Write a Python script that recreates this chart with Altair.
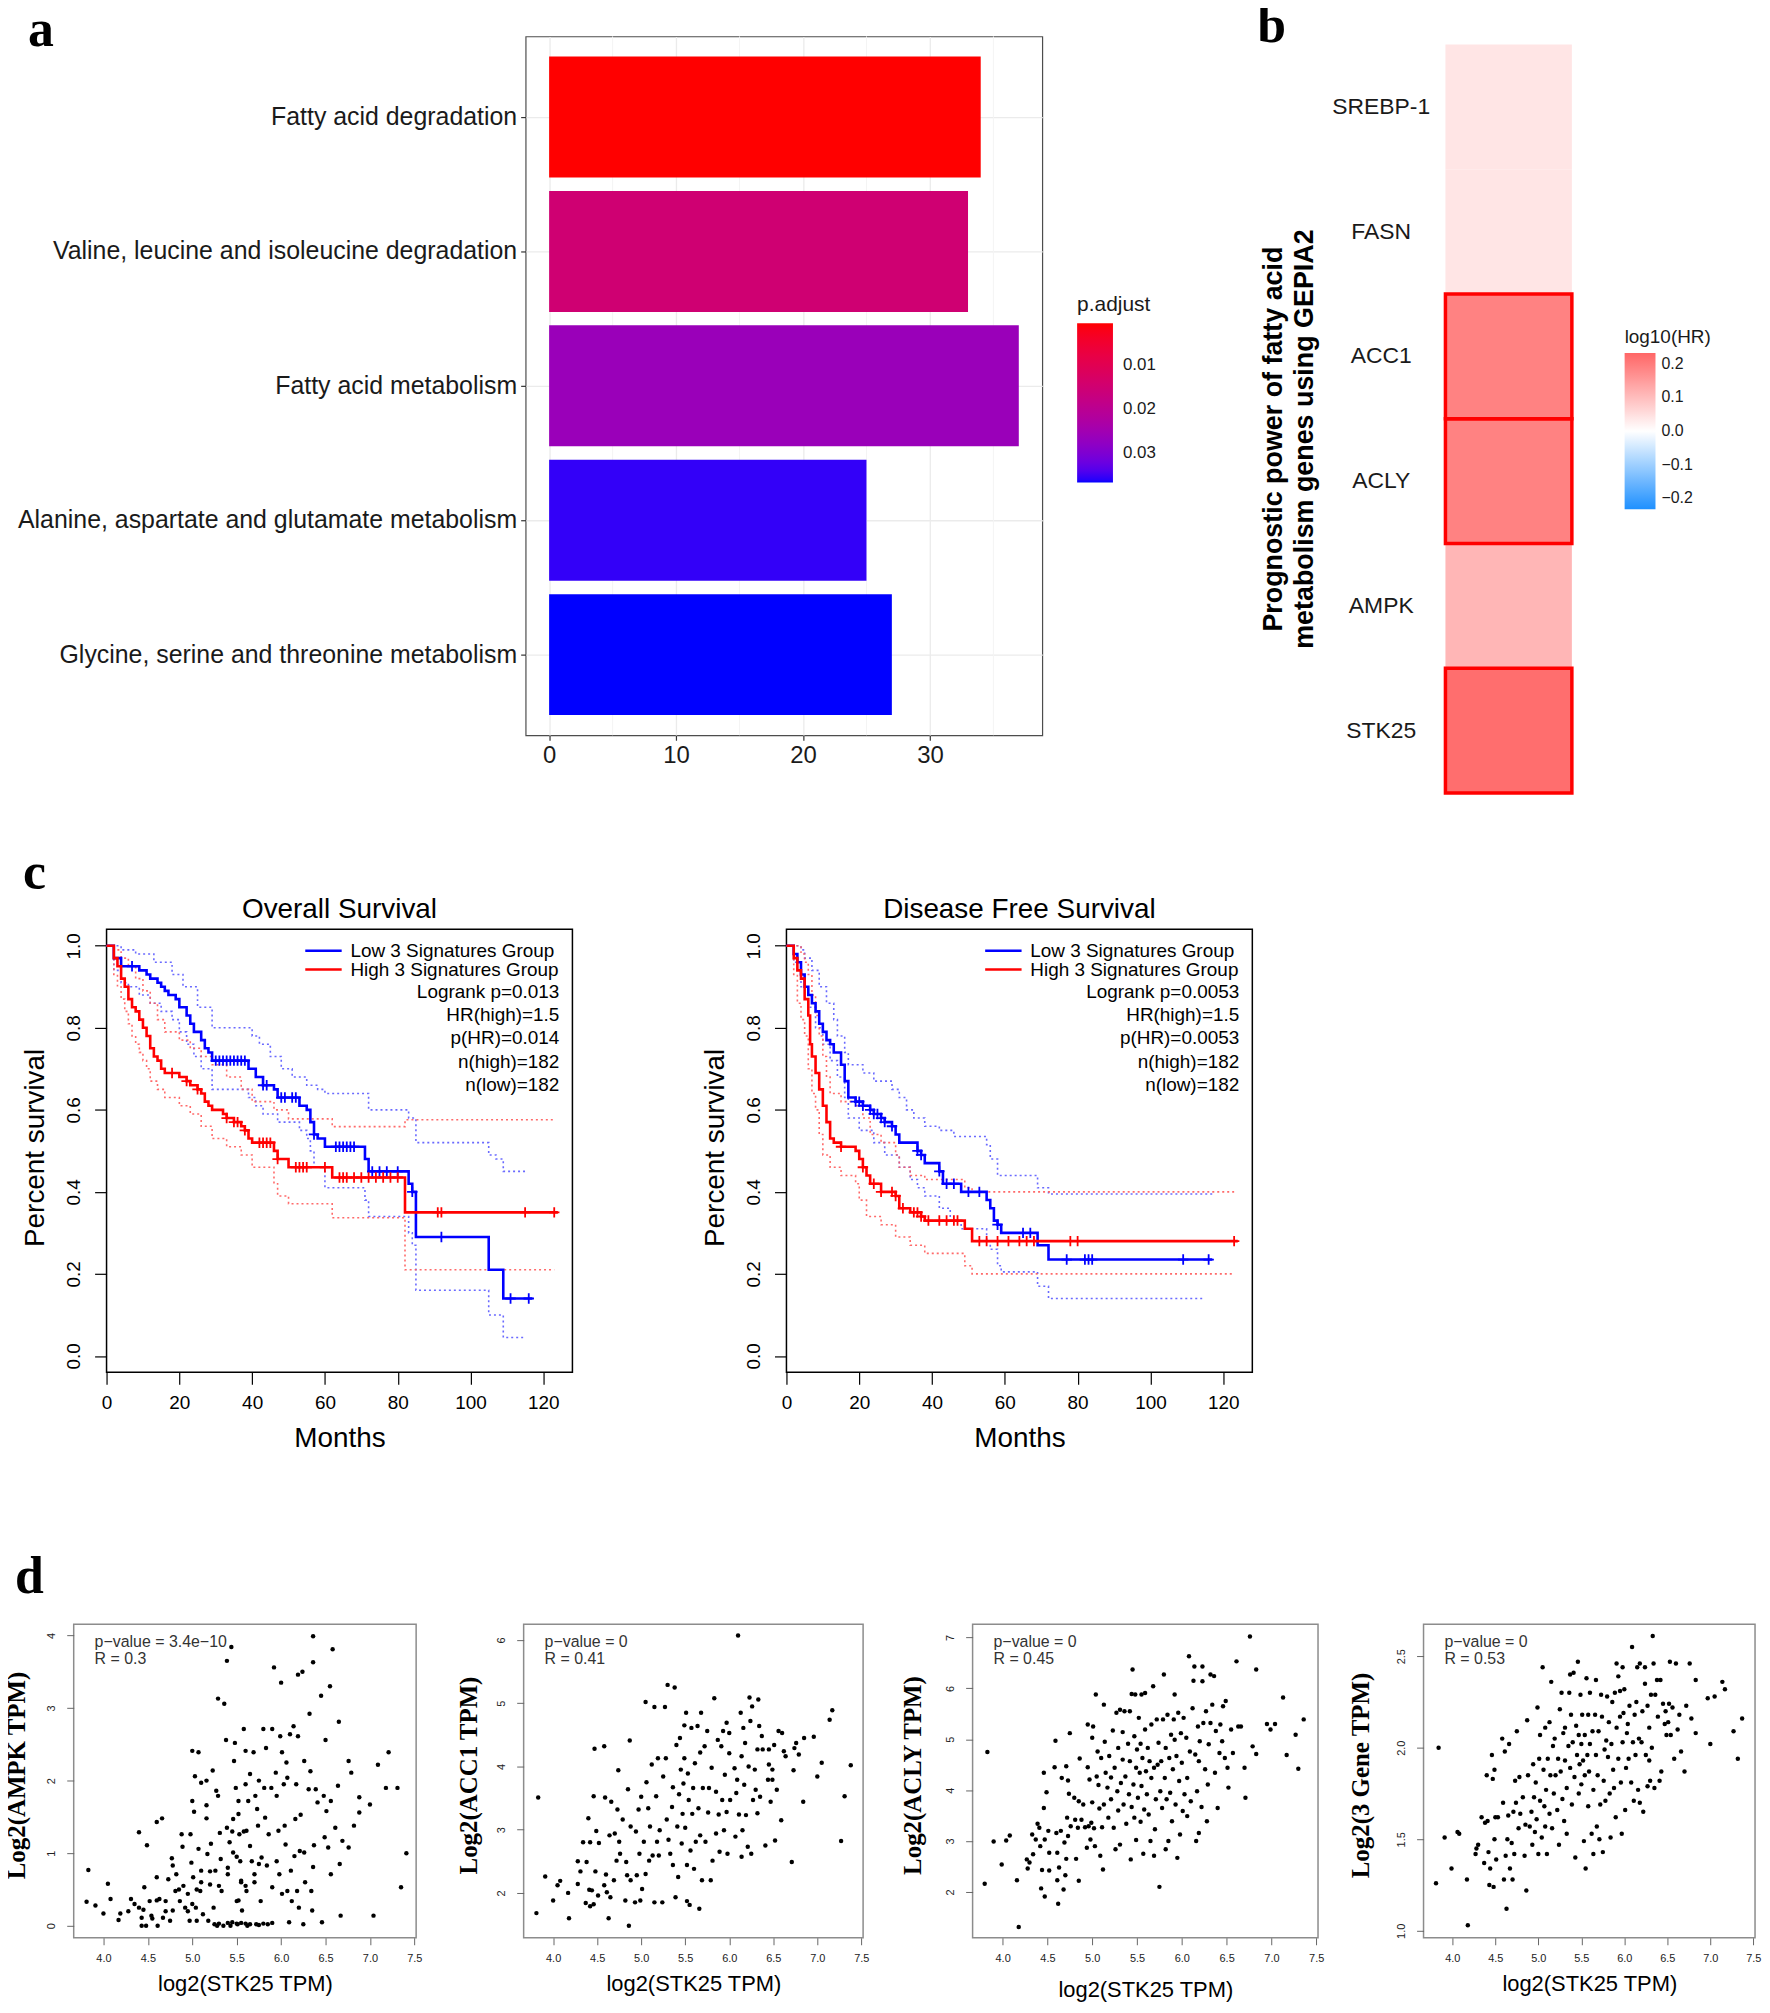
import altair as alt
import pandas as pd

FONT = "Liberation Sans"
SERIF = "Liberation Serif"

# ---------------- panel a ----------------
a_terms = ["Fatty acid degradation", "Valine, leucine and isoleucine degradation",
           "Fatty acid metabolism", "Alanine, aspartate and glutamate metabolism",
           "Glycine, serine and threonine metabolism"]
a_counts = [34, 33, 37, 25, 27]
a_padj = [0.00045, 0.0150, 0.0262, 0.0356, 0.0366]

# ---------------- panel b ----------------
b_genes = ["SREBP-1", "FASN", "ACC1", "ACLY", "AMPK", "STK25"]
b_log10hr = [0.04, 0.04, 0.19, 0.19, 0.11, 0.22]
b_significant = [False, False, True, True, False, True]

# ---------------- panel c (Kaplan-Meier step points: (month, survival)) ----------------
os_low = [(0, 1.0), (2, 0.97), (4, 0.95), (9, 0.94), (11, 0.93), (12, 0.92), (14, 0.91), (15, 0.90), (16, 0.89),
          (17, 0.88), (19, 0.87), (20, 0.85), (22, 0.83), (23, 0.81), (24, 0.79), (26, 0.77), (27, 0.75), (28, 0.74),
          (29, 0.72), (39, 0.70), (41, 0.68), (43, 0.66), (46, 0.65), (47, 0.63), (53, 0.61), (55, 0.60), (56, 0.57),
          (57, 0.54), (58, 0.53), (60, 0.51), (71, 0.48), (72, 0.45), (83, 0.42), (84, 0.40), (85, 0.29), (105, 0.21),
          (109, 0.14), (117, 0.14)]
os_high = [(0, 1.0), (2, 0.97), (3, 0.95), (4, 0.92), (5, 0.90), (6, 0.87), (7, 0.85), (8, 0.84), (9, 0.82), (10, 0.80),
           (11, 0.78), (12, 0.75), (13, 0.73), (14, 0.72), (15, 0.70), (16, 0.69), (20, 0.68), (22, 0.67), (23, 0.66),
           (25, 0.65), (26, 0.64), (27, 0.62), (28, 0.61), (29, 0.60), (32, 0.59), (33, 0.58), (35, 0.57), (37, 0.56),
           (38, 0.55), (39, 0.53), (40, 0.52), (46, 0.50), (47, 0.48), (50, 0.46), (62, 0.435), (82, 0.35), (124, 0.35)]
os_low_upper = [(0, 1.0), (3, 1.0), (4, 0.99), (8, 0.98), (13, 0.96), (18, 0.93), (21, 0.90), (25, 0.85), (29, 0.80),
                (40, 0.78), (42, 0.76), (45, 0.73), (48, 0.70), (51, 0.68), (55, 0.66), (58, 0.65), (60, 0.64),
                (72, 0.60), (83, 0.58), (85, 0.52), (105, 0.49), (107, 0.48), (109, 0.45), (115, 0.45)]
os_low_lower = [(0, 1.0), (2, 0.94), (4, 0.91), (6, 0.90), (9, 0.88), (12, 0.86), (15, 0.84), (18, 0.82), (20, 0.79),
                (22, 0.76), (24, 0.73), (26, 0.70), (29, 0.65), (39, 0.63), (41, 0.61), (43, 0.59), (47, 0.57),
                (53, 0.55), (55, 0.53), (56, 0.50), (57, 0.46), (60, 0.41), (71, 0.38), (72, 0.34), (83, 0.30),
                (84, 0.27), (85, 0.16), (105, 0.10), (109, 0.045), (115, 0.045)]
os_high_upper = [(0, 1.0), (2, 0.99), (4, 0.97), (6, 0.95), (8, 0.92), (10, 0.89), (12, 0.86), (14, 0.82), (16, 0.79),
                 (20, 0.77), (23, 0.75), (26, 0.73), (29, 0.71), (33, 0.68), (37, 0.65), (40, 0.62), (46, 0.60),
                 (50, 0.578), (62, 0.559), (82, 0.576), (123, 0.576)]
os_high_lower = [(0, 1.0), (2, 0.93), (3, 0.90), (4, 0.87), (5, 0.84), (6, 0.81), (7, 0.78), (8, 0.76), (9, 0.74),
                 (10, 0.72), (11, 0.70), (12, 0.67), (14, 0.65), (16, 0.63), (20, 0.61), (23, 0.59), (26, 0.56),
                 (29, 0.53), (33, 0.51), (37, 0.49), (40, 0.46), (46, 0.42), (47, 0.39), (50, 0.371), (62, 0.337),
                 (82, 0.21), (123, 0.21)]
os_cens_low = [7, 30, 31, 32, 33, 34, 35, 36, 37, 38, 43, 44, 48, 49, 51, 52, 57, 63, 64, 65, 66, 67, 68, 73, 75, 77,
               80, 84, 92, 111, 116]
os_cens_high = [18, 22, 25, 33, 35, 36, 38, 42, 43, 44, 45, 47, 52, 53, 54, 55, 60, 64, 65, 66, 68, 70, 72, 74, 76,
                78, 80, 91, 92, 115, 123]
os_stats = ["Logrank p=0.013", "HR(high)=1.5", "p(HR)=0.014", "n(high)=182", "n(low)=182"]

dfs_low = [(0, 1.0), (2, 0.98), (3, 0.96), (4, 0.93), (5, 0.90), (6, 0.88), (7, 0.86), (8, 0.84), (9, 0.81),
           (10, 0.79), (11, 0.77), (12, 0.76), (13, 0.74), (15, 0.71), (16, 0.67), (17, 0.63), (19, 0.62),
           (21, 0.61), (23, 0.60), (24, 0.59), (26, 0.58), (27, 0.57), (29, 0.56), (30, 0.54), (31, 0.52),
           (36, 0.50), (37, 0.49), (38, 0.47), (42, 0.45), (43, 0.42), (48, 0.40), (55, 0.38), (56, 0.36),
           (57, 0.33), (58, 0.32), (59, 0.30), (69, 0.27), (72, 0.235), (117, 0.235)]
dfs_high = [(0, 1.0), (2, 0.97), (3, 0.94), (4, 0.92), (5, 0.87), (6, 0.83), (6.5, 0.76), (7, 0.73), (8, 0.69),
            (9, 0.65), (10, 0.61), (11, 0.57), (12, 0.53), (13, 0.52), (15, 0.51), (19, 0.50), (20, 0.48),
            (21, 0.46), (22, 0.44), (23, 0.42), (26, 0.40), (30, 0.39), (31, 0.36), (34, 0.35), (37, 0.34),
            (38, 0.33), (49, 0.31), (51, 0.28), (124, 0.28)]
dfs_low_upper = [(0, 1.0), (3, 1.0), (4, 0.99), (5, 0.97), (7, 0.94), (9, 0.90), (11, 0.86), (13, 0.82), (14, 0.78),
                 (16, 0.74), (17, 0.71), (21, 0.69), (24, 0.67), (29, 0.65), (31, 0.63), (33, 0.60), (35, 0.58),
                 (38, 0.56), (42, 0.55), (46, 0.535), (55, 0.515), (56, 0.48), (58, 0.44), (69, 0.41),
                 (72, 0.395), (117, 0.395)]
dfs_low_lower = [(0, 1.0), (2, 0.96), (4, 0.90), (6, 0.85), (8, 0.80), (10, 0.76), (12, 0.72), (14, 0.68),
                 (16, 0.63), (17, 0.58), (20, 0.55), (24, 0.52), (27, 0.49), (31, 0.46), (34, 0.43), (36, 0.41),
                 (38, 0.39), (42, 0.36), (45, 0.33), (48, 0.31), (55, 0.28), (56, 0.26), (58, 0.22), (59, 0.205),
                 (69, 0.17), (72, 0.14), (115, 0.14)]
dfs_high_upper = [(0, 1.0), (3, 1.0), (4, 0.98), (5, 0.96), (6, 0.93), (7, 0.88), (8, 0.83), (9, 0.78), (10, 0.73),
                  (11, 0.68), (12, 0.64), (15, 0.62), (19, 0.61), (21, 0.58), (23, 0.54), (26, 0.52), (30, 0.49),
                  (31, 0.46), (34, 0.44), (38, 0.43), (49, 0.41), (51, 0.40), (123, 0.40)]
dfs_high_lower = [(0, 1.0), (2, 0.93), (3, 0.86), (4, 0.82), (5, 0.78), (6, 0.70), (7, 0.64), (8, 0.60), (9, 0.54),
                  (10, 0.49), (12, 0.46), (15, 0.44), (19, 0.42), (20, 0.38), (22, 0.34), (26, 0.32), (30, 0.29),
                  (34, 0.27), (38, 0.25), (49, 0.22), (51, 0.20), (123, 0.20)]
dfs_cens_low = [19, 20, 21, 23, 24, 25, 26, 27, 29, 36, 37, 42, 44, 46, 50, 53, 58, 65, 67, 77, 82, 83, 84, 109, 116]
dfs_cens_high = [15, 21, 24, 26, 29, 30, 32, 35, 36, 37, 39, 42, 44, 46, 47, 53, 55, 58, 61, 64, 66, 68, 78, 80, 123]
dfs_stats = ["Logrank p=0.0053", "HR(high)=1.5", "p(HR)=0.0053", "n(high)=182", "n(low)=182"]

km_groups = ["Low 3 Signatures Group", "High 3 Signatures Group"]

# ---------------- panel d (log2 STK25 TPM, log2 gene TPM) ----------------
ampk_pts = [(3.81,0.33),(3.83,0.77),(3.91,0.28),(4.0,0.17),(4.05,0.58),(4.08,0.37),(4.17,0.08),(4.19,0.17),(4.28,0.2),(4.31,0.37),(4.35,0.3),(4.4,1.29),(4.4,0.25),(4.43,0.11),(4.43,0.0),(4.46,0.53),(4.49,1.11),(4.48,0.0),(4.52,0.34),(4.54,0.14),(4.6,0.67),(4.6,1.43),(4.61,0.0),(4.63,0.37),(4.66,1.48),(4.67,0.11),(4.7,0.34),(4.73,0.64),(4.75,0.07),(4.77,0.93),(4.78,0.83),(4.78,0.21),(4.81,0.48),(4.82,0.71),(4.86,0.34),(4.88,1.26),(4.89,1.09),(4.9,0.55),(4.92,0.25),(4.95,0.44),(4.97,0.07),(4.98,1.26),(4.99,0.87),(5.0,2.41),(5.0,1.72),(5.01,0.67),(5.02,1.57),(5.03,2.06),(5.04,0.25),(5.05,0.07),(5.07,2.39),(5.07,1.06),(5.09,0.48),(5.1,1.97),(5.1,0.76),(5.12,0.16),(5.16,1.66),(5.16,1.48),(5.16,2.0),(5.17,0.99),(5.18,0.07),(5.2,0.57),(5.21,1.13),(5.23,2.14),(5.24,0.25),(5.26,0.76),(5.27,1.86),(5.28,0.0),(5.29,3.13),(5.29,1.79),(5.31,1.28),(5.32,0.92),(5.33,0.48),(5.35,0.0),(5.36,3.06),(5.38,2.56),(5.39,3.65),(5.39,1.35),(5.4,0.71),(5.42,1.15),(5.43,0.0),(5.44,3.84),(5.46,1.47),(5.46,1.01),(5.47,2.27),(5.48,2.52),(5.49,1.9),(5.5,0.34),(5.51,0.02),(5.52,1.72),(5.52,1.54),(5.53,1.26),(5.54,0.89),(5.55,0.62),(5.56,0.21),(5.58,2.71),(5.6,2.41),(5.6,1.95),(5.61,1.31),(5.61,0.48),(5.62,0.0),(5.63,1.72),(5.65,2.09),(5.67,0.89),(5.69,2.39),(5.7,0.71),(5.71,1.79),(5.72,0.02),(5.73,1.61),(5.74,1.38),(5.75,2.0),(5.77,0.34),(5.78,0.94),(5.8,2.71),(5.81,1.9),(5.82,1.49),(5.83,2.45),(5.84,0.83),(5.85,0.02),(5.86,1.26),(5.89,1.9),(5.9,2.71),(5.9,0.53),(5.92,3.56),(5.94,2.11),(5.95,0.89),(5.95,1.79),(5.97,1.31),(5.98,0.71),(5.99,2.61),(6.0,3.35),(6.01,2.39),(6.01,0.44),(6.03,1.95),(6.04,1.38),(6.05,1.12),(6.06,2.25),(6.07,2.04),(6.07,0.48),(6.09,0.05),(6.1,2.64),(6.11,0.76),(6.12,0.34),(6.14,2.75),(6.15,0.96),(6.16,1.47),(6.17,1.95),(6.18,0.48),(6.19,3.46),(6.19,2.61),(6.2,0.25),(6.21,1.03),(6.22,1.53),(6.24,3.5),(6.25,0.02),(6.26,2.27),(6.26,1.01),(6.27,0.6),(6.31,1.88),(6.32,2.92),(6.33,2.13),(6.34,0.48),(6.35,0.21),(6.36,0.81),(6.36,3.63),(6.36,3.99),(6.37,1.11),(6.39,1.88),(6.41,1.7),(6.45,3.17),(6.46,0.05),(6.48,1.79),(6.49,1.22),(6.5,2.56),(6.51,1.58),(6.53,1.08),(6.55,3.3),(6.56,1.72),(6.56,0.71),(6.58,3.81),(6.61,1.35),(6.64,1.93),(6.65,2.81),(6.66,0.85),(6.67,0.14),(6.69,1.17),(6.76,1.08),(6.76,2.27),(6.79,2.11),(6.82,1.38),(6.88,1.77),(6.88,1.56),(7.0,1.67),(7.04,0.14),(7.09,2.22),(7.18,1.9),(7.21,2.39),(7.31,1.9),(7.35,0.53),(7.41,1.0),(5.25,0.02),(5.3,0.03),(5.4,0.04),(5.45,0.05),(5.5,0.03),(5.55,0.04),(5.6,0.03),(5.65,0.02),(5.75,0.01),(5.8,0.03),(5.9,0.04),(5.52,0.35),(5.55,0.6),(5.6,0.55),(5.5,0.95),(5.45,1.3),(5.58,1.3),(5.7,0.6),(5.75,0.85),(5.65,1.1),(5.4,0.8),(5.3,0.55),(5.2,0.75),(5.1,0.6),(5.05,0.5),(5.0,0.3),(4.95,0.2),(4.85,0.5),(4.7,0.2),(4.6,0.35),(4.55,0.1),(4.45,0.22)]
acc1_pts = [(3.81,1.68),(3.83,3.51),(3.91,2.26),(4.0,1.88),(4.05,2.12),(4.08,2.19),(4.17,2.0),(4.18,1.6),(4.28,2.5),(4.28,2.14),(4.31,2.34),(4.34,2.8),(4.37,1.84),(4.38,2.49),(4.4,3.18),(4.41,2.05),(4.42,1.79),(4.42,2.8),(4.44,2.04),(4.46,3.53),(4.46,1.82),(4.47,4.28),(4.48,2.34),(4.49,2.98),(4.51,1.96),(4.52,2.79),(4.58,2.12),(4.58,4.32),(4.59,3.51),(4.6,2.29),(4.61,2.01),(4.63,1.6),(4.64,2.91),(4.65,1.93),(4.66,3.44),(4.69,2.2),(4.7,2.94),(4.72,2.51),(4.73,3.32),(4.74,3.94),(4.75,2.81),(4.76,2.62),(4.79,3.16),(4.82,1.88),(4.83,2.49),(4.84,2.28),(4.85,3.64),(4.86,1.48),(4.87,4.41),(4.88,2.2),(4.88,3.05),(4.93,1.85),(4.94,2.97),(4.95,2.28),(4.97,3.32),(4.98,2.62),(4.99,1.88),(5.0,3.52),(5.01,2.06),(5.03,2.81),(5.05,5.02),(5.05,2.3),(5.06,3.75),(5.08,3.34),(5.09,2.51),(5.1,3.05),(5.12,4.03),(5.13,2.59),(5.15,4.94),(5.15,1.85),(5.17,3.53),(5.18,2.81),(5.19,4.13),(5.2,2.59),(5.21,2.99),(5.24,1.85),(5.25,3.84),(5.27,4.94),(5.28,4.13),(5.29,3.16),(5.3,5.29),(5.31,2.84),(5.33,2.62),(5.35,3.36),(5.36,3.67),(5.36,2.44),(5.38,5.25),(5.39,1.93),(5.4,4.34),(5.41,3.05),(5.42,2.25),(5.43,3.56),(5.44,4.45),(5.45,3.95),(5.46,2.78),(5.47,3.25),(5.48,3.73),(5.49,4.65),(5.49,4.13),(5.5,3.03),(5.51,4.85),(5.52,2.44),(5.52,1.87),(5.53,3.89),(5.54,3.47),(5.55,1.81),(5.56,2.67),(5.57,4.61),(5.58,3.25),(5.59,3.66),(5.6,2.38),(5.61,4.05),(5.62,2.81),(5.64,4.64),(5.65,3.34),(5.66,1.75),(5.67,4.22),(5.67,2.91),(5.68,4.85),(5.69,2.2),(5.7,3.66),(5.72,4.32),(5.73,2.81),(5.75,4.56),(5.76,3.27),(5.77,3.66),(5.79,2.2),(5.8,3.98),(5.81,2.51),(5.83,5.08),(5.85,2.94),(5.85,3.6),(5.87,4.42),(5.88,3.24),(5.89,2.65),(5.91,4.32),(5.92,3.47),(5.93,4.56),(5.94,2.99),(5.95,3.87),(5.97,4.69),(5.97,3.28),(5.98,2.62),(6.0,4.21),(6.0,4.53),(6.01,3.47),(6.1,6.07),(6.06,3.97),(6.07,2.89),(6.08,3.58),(6.09,3.79),(6.11,3.24),(6.13,4.85),(6.14,4.16),(6.14,2.57),(6.15,2.99),(6.16,4.61),(6.17,3.71),(6.18,4.37),(6.19,3.23),(6.21,2.73),(6.22,4.0),(6.23,5.09),(6.24,4.72),(6.25,2.62),(6.26,4.95),(6.27,3.47),(6.29,3.95),(6.3,3.63),(6.32,4.27),(6.32,3.26),(6.33,5.06),(6.34,4.64),(6.35,3.52),(6.37,4.48),(6.38,4.27),(6.41,2.75),(6.44,3.79),(6.45,4.03),(6.45,4.27),(6.47,3.44),(6.49,3.95),(6.49,3.79),(6.51,4.34),(6.52,2.83),(6.54,3.63),(6.56,4.56),(6.59,3.15),(6.6,4.53),(6.62,4.24),(6.64,4.16),(6.71,2.49),(6.73,3.94),(6.74,4.29),(6.76,4.37),(6.79,4.19),(6.84,3.44),(6.85,4.45),(6.96,4.47),(7.0,3.84),(7.05,4.06),(7.14,4.74),(7.17,4.89),(7.27,2.82),(7.31,3.53),(7.38,4.02)]
acly_pts = [(3.8,2.16),(3.83,4.75),(3.9,2.99),(3.99,2.54),(4.04,3.01),(4.08,3.11),(4.16,2.23),(4.18,1.31),(4.27,2.64),(4.28,2.46),(4.3,2.58),(4.33,3.13),(4.34,2.74),(4.37,3.03),(4.39,3.34),(4.41,3.26),(4.42,2.9),(4.43,2.07),(4.44,2.43),(4.46,4.34),(4.46,3.65),(4.47,3.03),(4.47,1.91),(4.49,3.96),(4.51,3.2),(4.52,2.77),(4.52,2.42),(4.58,4.45),(4.59,4.97),(4.6,3.16),(4.61,2.23),(4.61,2.77),(4.62,1.77),(4.63,2.48),(4.65,3.2),(4.66,4.24),(4.68,2.05),(4.69,2.97),(4.7,2.33),(4.71,2.65),(4.71,4.47),(4.72,3.46),(4.73,4.19),(4.73,3.1),(4.74,3.93),(4.75,5.12),(4.76,3.29),(4.8,3.85),(4.81,3.42),(4.82,2.65),(4.84,3.26),(4.85,3.78),(4.85,2.22),(4.86,4.62),(4.88,3.42),(4.9,3.72),(4.92,3.27),(4.94,2.87),(4.95,5.29),(4.95,4.45),(4.96,3.29),(4.97,4.21),(4.98,3.03),(4.99,3.36),(5.0,5.03),(5.0,3.76),(5.01,5.25),(5.02,3.25),(5.03,2.9),(5.04,5.88),(5.05,4.27),(5.06,4.76),(5.07,4.1),(5.08,3.64),(5.09,2.71),(5.1,4.63),(5.11,3.27),(5.12,2.44),(5.13,5.68),(5.13,3.72),(5.14,4.95),(5.15,4.34),(5.17,4.05),(5.18,3.46),(5.19,4.67),(5.21,4.25),(5.21,3.82),(5.23,5.17),(5.24,3.26),(5.25,4.44),(5.26,2.84),(5.27,5.52),(5.28,3.98),(5.29,4.83),(5.29,3.6),(5.31,5.58),(5.31,2.93),(5.32,4.14),(5.34,5.14),(5.34,4.6),(5.35,3.72),(5.36,5.55),(5.37,4.27),(5.38,3.34),(5.4,4.91),(5.41,3.92),(5.42,5.55),(5.42,4.57),(5.43,2.64),(5.44,5.89),(5.44,3.67),(5.45,6.37),(5.46,4.11),(5.47,5.06),(5.47,3.46),(5.48,5.88),(5.49,4.44),(5.49,3.02),(5.5,4.8),(5.51,3.85),(5.52,5.42),(5.53,4.34),(5.54,3.38),(5.54,4.91),(5.55,5.88),(5.55,4.08),(5.56,4.63),(5.57,2.75),(5.58,3.62),(5.59,5.91),(5.59,5.19),(5.6,4.37),(5.61,3.92),(5.62,4.83),(5.63,3.52),(5.64,4.57),(5.65,3.0),(5.66,5.29),(5.66,4.24),(5.68,6.04),(5.69,2.71),(5.69,4.44),(5.7,3.23),(5.71,3.82),(5.72,5.39),(5.73,4.5),(5.74,4.93),(5.75,2.1),(5.76,3.98),(5.77,4.57),(5.78,3.65),(5.79,5.39),(5.8,6.27),(5.81,4.24),(5.82,2.84),(5.82,4.83),(5.83,3.82),(5.84,5.48),(5.85,3.0),(5.86,4.63),(5.87,3.95),(5.88,5.09),(5.89,3.39),(5.9,4.41),(5.91,5.39),(5.92,5.88),(5.92,4.99),(5.93,3.72),(5.94,4.67),(5.95,2.67),(5.96,5.52),(5.97,4.18),(5.98,3.13),(5.99,5.12),(6.0,4.54),(6.01,3.59),(6.02,5.42),(6.03,3.92),(6.05,5.03),(6.06,4.24),(6.06,3.49),(6.08,6.63),(6.09,4.76),(6.1,3.78),(6.12,5.61),(6.13,6.15),(6.14,6.43),(6.15,4.7),(6.16,3.0),(6.17,3.98),(6.18,5.25),(6.19,4.57),(6.19,3.16),(6.2,4.96),(6.22,3.67),(6.23,6.43),(6.23,6.14),(6.24,5.32),(6.26,4.41),(6.27,5.55),(6.28,3.39),(6.29,4.11),(6.3,4.9),(6.32,6.27),(6.32,5.32),(6.34,5.68),(6.36,6.24),(6.37,4.34),(6.38,5.16),(6.4,3.65),(6.42,4.73),(6.43,5.29),(6.45,4.96),(6.46,5.65),(6.48,4.63),(6.49,5.75),(6.51,4.44),(6.52,4.05),(6.55,5.19),(6.57,4.73),(6.61,6.53),(6.63,5.25),(6.66,5.25),(6.7,4.44),(6.71,3.85),(6.76,7.02),(6.79,4.86),(6.83,6.37),(6.83,4.71),(6.95,5.3),(6.99,5.19),(7.04,5.3),(7.13,5.82),(7.17,4.69),(7.27,5.09),(7.3,4.42),(7.36,5.39)]
gene3_pts = [(3.81,1.26),(3.84,2.0),(3.91,1.51),(3.99,1.34),(4.06,1.54),(4.08,1.53),(4.17,1.28),(4.18,1.03),(4.27,1.42),(4.28,1.45),(4.3,1.47),(4.34,1.62),(4.37,1.37),(4.38,1.59),(4.4,1.85),(4.41,1.6),(4.42,1.43),(4.43,1.25),(4.44,1.34),(4.46,1.96),(4.47,1.83),(4.48,1.24),(4.49,1.5),(4.49,1.88),(4.5,1.62),(4.51,1.39),(4.53,1.62),(4.58,2.05),(4.59,1.7),(4.6,1.28),(4.61,1.98),(4.62,1.41),(4.63,1.12),(4.64,1.5),(4.65,1.63),(4.66,2.02),(4.67,1.34),(4.69,1.48),(4.7,1.28),(4.71,1.65),(4.72,1.42),(4.73,1.82),(4.74,1.7),(4.75,2.09),(4.77,1.56),(4.78,1.84),(4.79,1.64),(4.82,1.73),(4.84,1.41),(4.85,1.58),(4.86,1.22),(4.87,2.15),(4.88,1.85),(4.9,1.57),(4.92,1.65),(4.93,1.47),(4.94,1.91),(4.95,1.73),(4.96,1.54),(4.97,1.81),(4.98,1.61),(4.99,2.22),(5.0,1.42),(5.01,1.94),(5.02,2.07),(5.02,1.71),(5.04,1.51),(5.05,2.44),(5.06,1.88),(5.07,1.68),(5.08,2.11),(5.08,1.57),(5.09,1.77),(5.1,1.42),(5.11,1.94),(5.13,1.64),(5.13,2.14),(5.14,1.85),(5.15,2.36),(5.16,1.56),(5.17,2.01),(5.18,1.75),(5.19,2.05),(5.2,1.85),(5.22,1.66),(5.23,1.94),(5.24,1.47),(5.25,2.21),(5.26,1.87),(5.27,2.3),(5.28,1.72),(5.29,2.08),(5.3,1.6),(5.31,1.93),(5.31,2.11),(5.33,1.78),(5.33,1.53),(5.35,2.01),(5.36,2.3),(5.37,1.89),(5.37,2.4),(5.38,2.18),(5.39,1.69),(5.4,2.03),(5.41,2.41),(5.42,1.84),(5.43,1.4),(5.44,2.12),(5.45,1.96),(5.46,2.47),(5.47,1.75),(5.47,2.07),(5.48,1.91),(5.49,2.29),(5.5,2.02),(5.5,1.8),(5.51,2.18),(5.52,1.93),(5.53,1.49),(5.54,2.07),(5.54,1.85),(5.55,1.34),(5.56,2.38),(5.57,1.96),(5.58,1.68),(5.58,2.18),(5.59,1.87),(5.6,2.3),(5.6,2.02),(5.62,1.53),(5.63,2.09),(5.64,1.77),(5.64,1.42),(5.66,2.18),(5.67,1.96),(5.67,2.37),(5.68,1.57),(5.69,1.85),(5.7,2.09),(5.71,1.5),(5.72,1.69),(5.73,2.29),(5.74,2.17),(5.75,1.43),(5.76,1.82),(5.77,1.99),(5.78,1.71),(5.79,2.04),(5.8,2.28),(5.81,1.95),(5.82,2.14),(5.83,1.75),(5.84,1.51),(5.85,2.02),(5.86,2.25),(5.87,1.88),(5.88,1.78),(5.89,2.3),(5.9,1.62),(5.91,2.46),(5.91,2.11),(5.93,1.94),(5.93,2.39),(5.95,2.17),(5.95,2.31),(5.96,1.81),(5.97,1.53),(5.98,2.44),(5.98,2.03),(5.99,2.19),(6.0,2.32),(6.01,1.66),(6.02,1.89),(6.03,2.08),(6.04,2.13),(6.05,1.94),(6.06,2.23),(6.08,1.81),(6.09,2.55),(6.1,2.03),(6.11,1.71),(6.12,2.18),(6.13,1.96),(6.14,2.25),(6.15,2.44),(6.16,1.77),(6.17,2.05),(6.18,2.46),(6.18,1.7),(6.2,2.03),(6.21,2.2),(6.22,1.65),(6.24,2.35),(6.24,2.44),(6.25,1.96),(6.27,1.79),(6.27,2.23),(6.29,2.11),(6.29,1.93),(6.3,1.82),(6.31,2.29),(6.32,2.0),(6.33,2.61),(6.34,2.46),(6.35,1.78),(6.36,2.29),(6.38,2.37),(6.39,2.17),(6.41,1.82),(6.42,2.37),(6.43,1.87),(6.45,2.24),(6.47,2.13),(6.48,2.2),(6.49,2.07),(6.51,2.14),(6.52,2.24),(6.53,2.47),(6.54,2.07),(6.56,2.22),(6.58,1.94),(6.6,2.46),(6.62,2.1),(6.64,2.18),(6.66,1.98),(6.7,1.87),(6.72,2.23),(6.76,2.46),(6.78,2.16),(6.83,2.37),(6.83,2.08),(6.97,2.27),(7.0,2.02),(7.05,2.28),(7.14,2.36),(7.17,2.32),(7.27,2.09),(7.32,1.94),(7.37,2.16)]

NOSTROKE = alt.ViewBackground(stroke="transparent")


def spacer(w, h):
    return alt.Chart(pd.DataFrame({"v": [0]})).mark_point(opacity=0).encode(
        x=alt.X("v:Q", axis=None), y=alt.Y("v:Q", axis=None)
    ).properties(width=w, height=h, view=NOSTROKE)


def anchor(top, bottom, left, right):
    # invisible rectangle that fixes the layout bounds of a row
    return alt.Chart(pd.DataFrame({"v": [0]})).mark_rect(opacity=0).encode(
        x=alt.value(-left), x2=alt.value(right), y=alt.value(-top), y2=alt.value(bottom))


def anchor_spacer(w, top, bottom, left):
    return anchor(top, bottom, left, w).properties(width=w, height=1, view=NOSTROKE)


def letter(ch, x, y):
    return alt.Chart(pd.DataFrame({"txt": [ch]})).mark_text(
        font=SERIF, fontSize=52, fontWeight="bold", align="left", baseline="alphabetic", color="black"
    ).encode(text="txt:N", x=alt.value(x), y=alt.value(y))


# ================= panel a =================
df_a = pd.DataFrame({"term": a_terms, "count": a_counts, "padj_neg": [-p for p in a_padj], "base": [0] * 5})
x_a_scale = alt.Scale(domain=[-1.85, 38.85], nice=False, zero=False)
x_a_axis = alt.Axis(values=[0, 10, 20, 30], title=None, labelFont=FONT, labelFontSize=24, labelColor="#1a1a1a",
                    tickColor="#333333", tickSize=5, tickWidth=1.2, labelPadding=3, domain=False, grid=True,
                    gridColor="#EBEBEB", gridWidth=1.3, labelFlush=False)
y_a = alt.Y("term:N", sort=a_terms, title=None, scale=alt.Scale(paddingInner=0.1, paddingOuter=0.15),
            axis=alt.Axis(labelFont=FONT, labelFontSize=25, labelColor="#1a1a1a", labelLimit=0,
                          tickColor="#333333", tickSize=5, tickWidth=1.2, labelPadding=4, domain=False,
                          grid=True, gridColor="#EBEBEB", gridWidth=1.3, bandPosition=0.5))
minor_a = alt.Chart(pd.DataFrame({"base": [5, 15, 25, 35]})).mark_rule(color="#F4F4F4", strokeWidth=1).encode(
    x=alt.X("base:Q", scale=x_a_scale, axis=x_a_axis))
bars_a = alt.Chart(df_a).mark_bar().encode(
    y=y_a,
    x=alt.X("base:Q", scale=x_a_scale, axis=x_a_axis),
    x2="count:Q",
    color=alt.Color("padj_neg:Q",
                    scale=alt.Scale(domain=[-0.0366, -0.00045], range=["#0000FF", "#FF0000"], interpolate="lab"),
                    legend=alt.Legend(title="p.adjust", orient="none", legendX=554, legendY=259,
                                      direction="vertical", gradientLength=160, gradientThickness=36,
                                      values=[-0.03, -0.02, -0.01], labelExpr="format(-datum.value, '.2f')",
                                      titleFont=FONT, titleFontSize=21, titleFontWeight="normal",
                                      titleColor="#1a1a1a", labelFont=FONT, labelFontSize=17,
                                      labelColor="#1a1a1a", labelOffset=10, titlePadding=8, padding=0,
                                      labelOverlap=False, gradientStrokeWidth=0)))
panel_a = alt.layer(minor_a, bars_a, letter("a", -500, 10)).properties(
    width=519, height=702, view=alt.ViewBackground(stroke="#4D4D4D", strokeWidth=1.2))

# ================= panel b =================
df_b = pd.DataFrame({"gene": b_genes, "hr": b_log10hr, "sig": b_significant})
y_b = alt.Y("gene:N", sort=b_genes, scale=alt.Scale(paddingInner=0, paddingOuter=0.0319, align=1),
            axis=alt.Axis(title=["Prognostic power of fatty acid", "metabolism genes using GEPIA2"],
                          titleFont=FONT, titleFontSize=27, titleFontWeight="bold", titleColor="black",
                          titleX=-173, titleY=404, titleAngle=270, titleAlign="center", titleBaseline="middle",
                          titleLineHeight=31, labelFont=FONT, labelFontSize=23, labelColor="#1a1a1a",
                          labelAlign="center", labelBaseline="middle", labelPadding=65, ticks=False, tickSize=0,
                          domain=False, grid=False))
heat = alt.Chart(df_b).mark_rect().encode(
    y=y_b, x=alt.value(0), x2=alt.value(127),
    color=alt.Color("hr:Q", scale=alt.Scale(domain=[-0.232, 0, 0.232], range=["#1E90FF", "#FFFFFF", "#FF6666"],
                                            interpolate="rgb"),
                    legend=alt.Legend(title="log10(HR)", orient="none", legendX=180, legendY=293,
                                      direction="vertical", gradientLength=157, gradientThickness=31,
                                      values=[-0.2, -0.1, 0, 0.1, 0.2], format=".1f", titleFont=FONT,
                                      titleFontSize=19, titleFontWeight="normal", titleColor="#1a1a1a",
                                      labelFont=FONT, labelFontSize=16, labelColor="#1a1a1a", labelOffset=6,
                                      titlePadding=6, padding=0, labelOverlap=False, gradientStrokeWidth=0)))
border = alt.Chart(df_b).transform_filter("datum.sig").mark_rect(
    fillOpacity=0, stroke="#FF0000", strokeWidth=3.5).encode(y=y_b, x=alt.value(0), x2=alt.value(127))
panel_b = alt.layer(heat, border, letter("b", -189, 6)).properties(width=127, height=760, view=NOSTROKE)


# ================= panel c =================
def step_at(pts, t):
    v = pts[0][1]
    for ti, si in pts:
        if ti <= t:
            v = si
    return v


def curve_df(pts, name):
    return pd.DataFrame({"t": [p[0] for p in pts], "s": [p[1] for p in pts], "series": name})


def km_chart(title, low, high, low_ci, high_ci, cens_low, cens_high, stats, with_letter):
    xs = alt.Scale(domain=[0, 128], nice=False, zero=False)
    ys = alt.Scale(domain=[-0.04, 1.04], nice=False, zero=False)
    xax = alt.Axis(values=[0, 20, 40, 60, 80, 100, 120], title="Months", titleFont=FONT, titleFontSize=28,
                   titleFontWeight="normal", titleColor="black", titleY=66, titleBaseline="middle",
                   labelFont=FONT, labelFontSize=19, labelColor="black", labelPadding=9, tickSize=12,
                   tickColor="black", tickWidth=1.2, domain=False, grid=False, labelFlush=False,
                   labelOverlap=False)
    yax = alt.Axis(values=[0, 0.2, 0.4, 0.6, 0.8, 1.0], format=".1f", title="Percent survival", titleFont=FONT,
                   titleFontSize=28, titleFontWeight="normal", titleColor="black", titleX=-71, titleY=219,
                   titleAngle=270, titleAlign="center", titleBaseline="middle", labelFont=FONT, labelFontSize=19,
                   labelColor="black", labelAngle=270, labelAlign="center", labelBaseline="middle",
                   labelPadding=21, tickSize=12, tickColor="black", tickWidth=1.2, domain=False, grid=False,
                   labelFlush=False, labelOverlap=False)
    X = alt.X("t:Q", scale=xs, axis=xax)
    Y = alt.Y("s:Q", scale=ys, axis=yax)
    layers = []
    for ci, col in ((low_ci, "#5A5AFF"), (high_ci, "#FF5A5A")):
        d = pd.concat([curve_df(ci[0], "upper"), curve_df(ci[1], "lower")])
        layers.append(alt.Chart(d).mark_line(interpolate="step-after", color=col, strokeWidth=1.6,
                                             strokeDash=[2, 3], opacity=0.9).encode(x=X, y=Y, detail="series:N"))
    for pts, col in ((low, "#0000FF"), (high, "#FF0000")):
        layers.append(alt.Chart(curve_df(pts, "main")).mark_line(interpolate="step-after", color=col,
                                                                  strokeWidth=2.6).encode(x=X, y=Y))
    for cens, pts, col in ((cens_low, low, "#0000FF"), (cens_high, high, "#FF0000")):
        d = pd.DataFrame({"t": cens, "s": [step_at(pts, c) for c in cens]})
        layers.append(alt.Chart(d).mark_point(shape="M0,-1L0,1M-1,0L1,0", size=110, strokeWidth=1.8, color=col,
                                              filled=False, opacity=1).encode(x=X, y=Y))
    leg = pd.DataFrame({"t": [54.6, 54.6], "t2": [64.6, 64.6], "s": [0.988, 0.942], "g": ["low", "high"]})
    layers.append(alt.Chart(leg).mark_rule(strokeWidth=2.6).encode(
        x=X, x2="t2:Q", y=Y,
        color=alt.Color("g:N", scale=alt.Scale(domain=["low", "high"], range=["#0000FF", "#FF0000"]),
                        legend=None)))
    grp = pd.DataFrame({"t": [67.0, 67.0], "s": [0.988, 0.942], "label": km_groups})
    layers.append(alt.Chart(grp).mark_text(font=FONT, fontSize=19, align="left", baseline="middle",
                                           color="black").encode(x=X, y=Y, text="label:N"))
    st = pd.DataFrame({"t": [124.4] * 5, "s": [0.888, 0.830, 0.775, 0.716, 0.661], "label": stats})
    layers.append(alt.Chart(st).mark_text(font=FONT, fontSize=19, align="right", baseline="middle",
                                          color="black").encode(x=X, y=Y, text="label:N"))
    layers.append(alt.Chart(pd.DataFrame({"label": [title]})).mark_text(
        font=FONT, fontSize=28, align="center", baseline="middle", color="black").encode(
        text="label:N", x=alt.value(234), y=alt.value(-19)))
    if with_letter:
        layers.append(letter("c", -84, -41))
    return alt.layer(*layers).properties(
        width=468, height=445, view=alt.ViewBackground(stroke="black", strokeWidth=1.5))


os_chart = km_chart("Overall Survival", os_low, os_high, (os_low_upper, os_low_lower),
                    (os_high_upper, os_high_lower), os_cens_low, os_cens_high, os_stats, True)
dfs_chart = km_chart("Disease Free Survival", dfs_low, dfs_high, (dfs_low_upper, dfs_low_lower),
                     (dfs_high_upper, dfs_high_lower), dfs_cens_low, dfs_cens_high, dfs_stats, False)


# ================= panel d =================
def scatter(pts, ydom, yvals, yfmt, ytitle, ptext, rtext, title_x, title_y_off, w, h, first):
    d = pd.DataFrame({"stk25": [p[0] for p in pts], "gene": [p[1] for p in pts]})
    xax = alt.Axis(values=[4.0, 4.5, 5.0, 5.5, 6.0, 6.5, 7.0, 7.5], format=".1f", title="log2(STK25 TPM)",
                   titleFont=FONT, titleFontSize=22, titleFontWeight="normal", titleColor="black",
                   titleY=title_y_off, titleBaseline="middle", labelFont=FONT, labelFontSize=11,
                   labelColor="#222222", labelPadding=8, tickSize=7, tickColor="#666666", domain=False,
                   grid=False, labelFlush=False, labelOverlap=False)
    yax = alt.Axis(values=yvals, format=yfmt, title=ytitle, titleFont=SERIF, titleFontSize=25,
                   titleFontWeight="bold", titleColor="black", titleX=title_x, titleY=h / 2 - 6, titleAngle=270,
                   titleAlign="center", titleBaseline="middle", labelFont=FONT, labelFontSize=11,
                   labelColor="#222222", labelAngle=270, labelAlign="center", labelBaseline="middle",
                   labelPadding=15, tickSize=7, tickColor="#666666", domain=False, grid=False,
                   labelFlush=False, labelOverlap=False)
    pts_layer = alt.Chart(d).mark_circle(size=20, color="black", opacity=1).encode(
        x=alt.X("stk25:Q", scale=alt.Scale(domain=[3.665, 7.52], nice=False, zero=False), axis=xax),
        y=alt.Y("gene:Q", scale=alt.Scale(domain=ydom, nice=False, zero=False), axis=yax))
    ann = alt.Chart(pd.DataFrame({"label": [ptext, rtext], "py": [18, 35]})).mark_text(
        font=FONT, fontSize=16, align="left", baseline="middle", color="#333333").encode(
        text="label:N", x=alt.value(21), y=alt.Y("py:Q", scale=None, axis=None))
    layers = [pts_layer, ann]
    if first:
        layers.append(letter("d", -59, -31))
        layers.append(anchor(136, 400, 10, 1))
    return alt.layer(*layers).resolve_scale(y="independent").properties(
        width=w, height=h, view=alt.ViewBackground(stroke="#8C8C8C", strokeWidth=1.5))


s1 = scatter(ampk_pts, [-0.165, 4.155], [0, 1, 2, 3, 4], "d", "Log2(AMPK TPM)", "p\u2212value = 3.4e\u221210",
             "R = 0.3", -57, 46, 344, 315, True)
s2 = scatter(acc1_pts, [1.29, 6.25], [2, 3, 4, 5, 6], "d", "Log2(ACC1 TPM)", "p\u2212value = 0", "R = 0.41",
             -55, 46, 341, 315, False)
s3 = scatter(acly_pts, [1.10, 7.26], [2, 3, 4, 5, 6, 7], "d", "Log2(ACLY TPM)", "p\u2212value = 0", "R = 0.45",
             -60, 52, 347, 315, False)
s4 = scatter(gene3_pts, [0.962, 2.675], [1.0, 1.5, 2.0, 2.5], ".1f", "Log2(3 Gene TPM)", "p\u2212value = 0",
             "R = 0.53", -63, 46, 333, 315, False)


def row(*charts):
    return alt.hconcat(*charts, spacing=0, bounds="flush").resolve_scale(
        color="independent", x="independent", y="independent").resolve_legend(color="independent")


# ================= layout =================
row1 = row(anchor_spacer(454, 34, 780, 10), panel_a, spacer(405, 1), panel_b)
row2 = row(anchor_spacer(33, 115, 560, 10), os_chart, spacer(215, 1), dfs_chart)
row3 = row(s1, spacer(108, 1), s2, spacer(110, 1), s3, spacer(106, 1), s4)

chart = alt.vconcat(row1, row2, row3, spacing=0, bounds="full").resolve_scale(
    color="independent", x="independent", y="independent"
).resolve_legend(color="independent").properties(
    autosize=alt.AutoSizeParams(type="none"),
    padding={"left": 66, "top": 24, "right": 1696, "bottom": 1981},
).configure_view(stroke="transparent").configure(font=FONT, background="white")

chart.save("out.html", embed_options={"renderer": "svg", "actions": False})
